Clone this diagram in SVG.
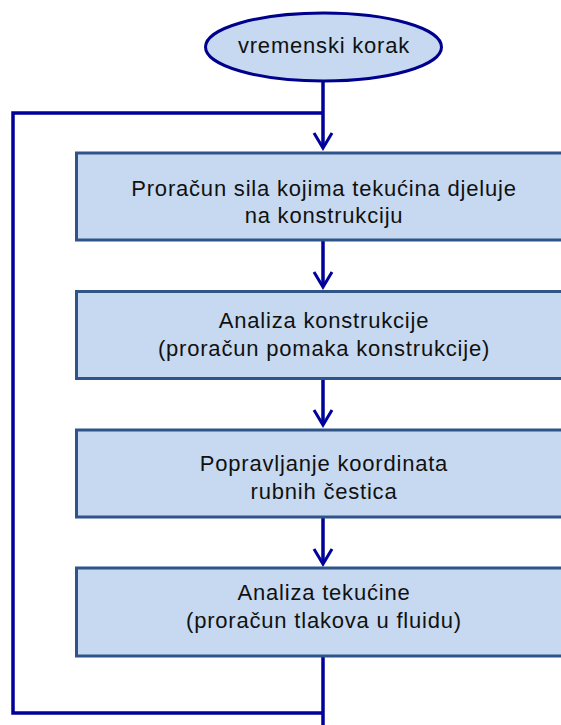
<svg xmlns="http://www.w3.org/2000/svg" width="561" height="725" viewBox="0 0 561 725">
<style>
.box{fill:#C6D9F0;stroke:#2E5489;stroke-width:3}
.ell{fill:#C6D9F0;stroke:#00008F;stroke-width:3}
.ln{fill:none;stroke:#00009A;stroke-width:3.5}
.ah{fill:none;stroke:#00009A;stroke-width:3}
text{font-family:"Liberation Sans",Arial,sans-serif;font-size:22px;letter-spacing:0.8px;fill:#111;text-anchor:middle}
</style>
<rect width="561" height="725" fill="#fff"/>
<g id="connectors">
<path class="ln" d="M323,81 V147"/>
<path class="ln" d="M323,113 H13 V713 H323"/>
<path class="ln" d="M323,656 V725"/>
<path class="ln" d="M323,240 V286"/>
<path class="ln" d="M323,378 V424"/>
<path class="ln" d="M323,517 V562"/>
<path class="ah" d="M314,133 L323,148 L332,133"/>
<path class="ah" d="M314,272 L323,287 L332,272"/>
<path class="ah" d="M314,410 L323,425 L332,410"/>
<path class="ah" d="M314,549 L323,564 L332,549"/>
</g>
<g id="start">
<ellipse class="ell" cx="323.5" cy="47" rx="118" ry="34"/>
<text x="324" y="53">vremenski korak</text>
</g>
<g id="n1">
<rect class="box" x="76.5" y="153" width="500" height="87"/>
<text x="324" y="196">Proračun sila kojima tekućina djeluje</text>
<text x="324" y="223">na konstrukciju</text>
</g>
<g id="n2">
<rect class="box" x="76.5" y="291.5" width="500" height="87"/>
<text x="324" y="328">Analiza konstrukcije</text>
<text x="324" y="356">(proračun pomaka konstrukcije)</text>
</g>
<g id="n3">
<rect class="box" x="76.5" y="430" width="500" height="87"/>
<text x="324" y="471">Popravljanje koordinata</text>
<text x="324" y="499">rubnih čestica</text>
</g>
<g id="n4">
<rect class="box" x="76.5" y="568" width="500" height="88"/>
<text x="324" y="600">Analiza tekućine</text>
<text x="324" y="628">(proračun tlakova u fluidu)</text>
</g>
</svg>
